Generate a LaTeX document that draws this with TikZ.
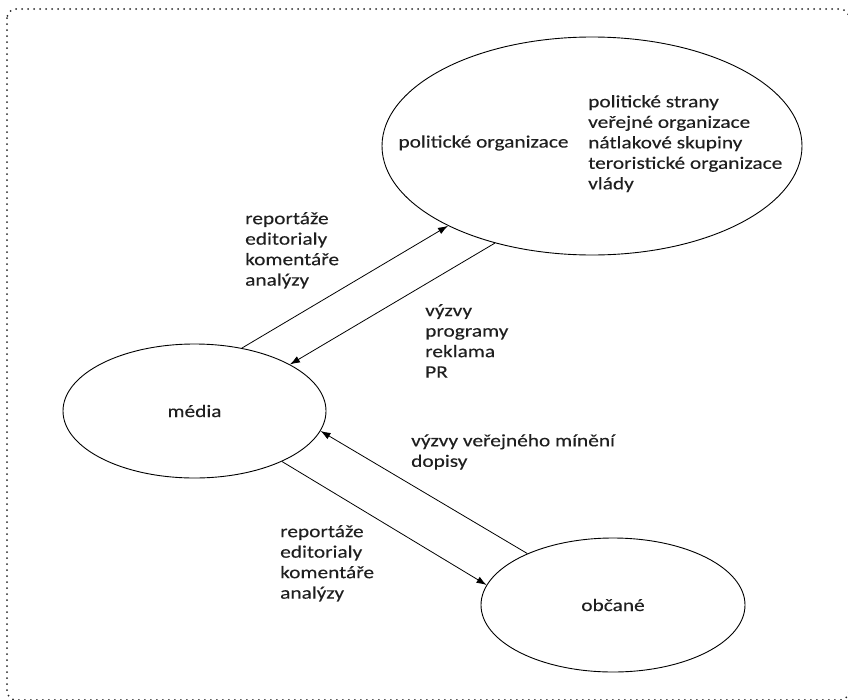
\documentclass[tikz,border=0pt]{standalone}
\usepackage{fontspec}
\setmainfont{Carlito}[FakeStretch=1.22, FakeBold=0.2]
\usepackage{xcolor}
\usepackage{tikz}
\usetikzlibrary{shapes.geometric, arrows.meta, positioning}

\begin{document}
\begin{tikzpicture}[
    x=1pt, y=-1pt,
    every node/.style={font=\fontsize{17.5}{20.5}\selectfont, text=black!88},
    sphere/.style={draw, ellipse, inner sep=0pt, line width=0.9pt},
    listtext/.style={align=left, anchor=north west, inner sep=0pt},
    flow/.style={draw, -{Latex[length=10pt, width=7pt]}, line width=0.8pt},
    dotframe/.style={draw, black!85, line width=2pt, dash pattern=on 0pt off 6pt, line cap=round, rounded corners=9pt}
  ]
  \useasboundingbox (0,0) rectangle (848,699);
  \draw[dotframe] (7,9) rectangle (849,700);

  \node[sphere, minimum width=420pt, minimum height=218pt] (polit) at (592,146) {};
  \node[inner sep=0pt] (politname) at (483.5,143) {politické organizace};
  \node[listtext] (politlist) at (588,95) {politické strany\\veřejné organizace\\nátlakové skupiny\\teroristické organizace\\vlády};

  \node[sphere, minimum width=263pt, minimum height=134pt] (media) at (194.5,411) {média};
  \node[sphere, minimum width=264pt, minimum height=134pt] (obcane) at (613,605) {občané};

  \node[listtext] (reportup) at (245,212) {reportáže\\editorialy\\komentáře\\analýzy};
  \node[listtext] (calls) at (425,304) {výzvy\\programy\\reklama\\PR};
  \node[listtext] (opinion) at (411,434) {výzvy veřejného mínění\\dopisy};
  \node[listtext] (reportdown) at (280,525) {reportáže\\editorialy\\komentáře\\analýzy};

  \draw[flow] (media.53) -- (polit.209);
  \draw[flow] (polit.225) -- (media.26);
  \draw[flow] (obcane.149) -- (media.351);
  \draw[flow] (media.330) -- (obcane.171);
\end{tikzpicture}
\end{document}
